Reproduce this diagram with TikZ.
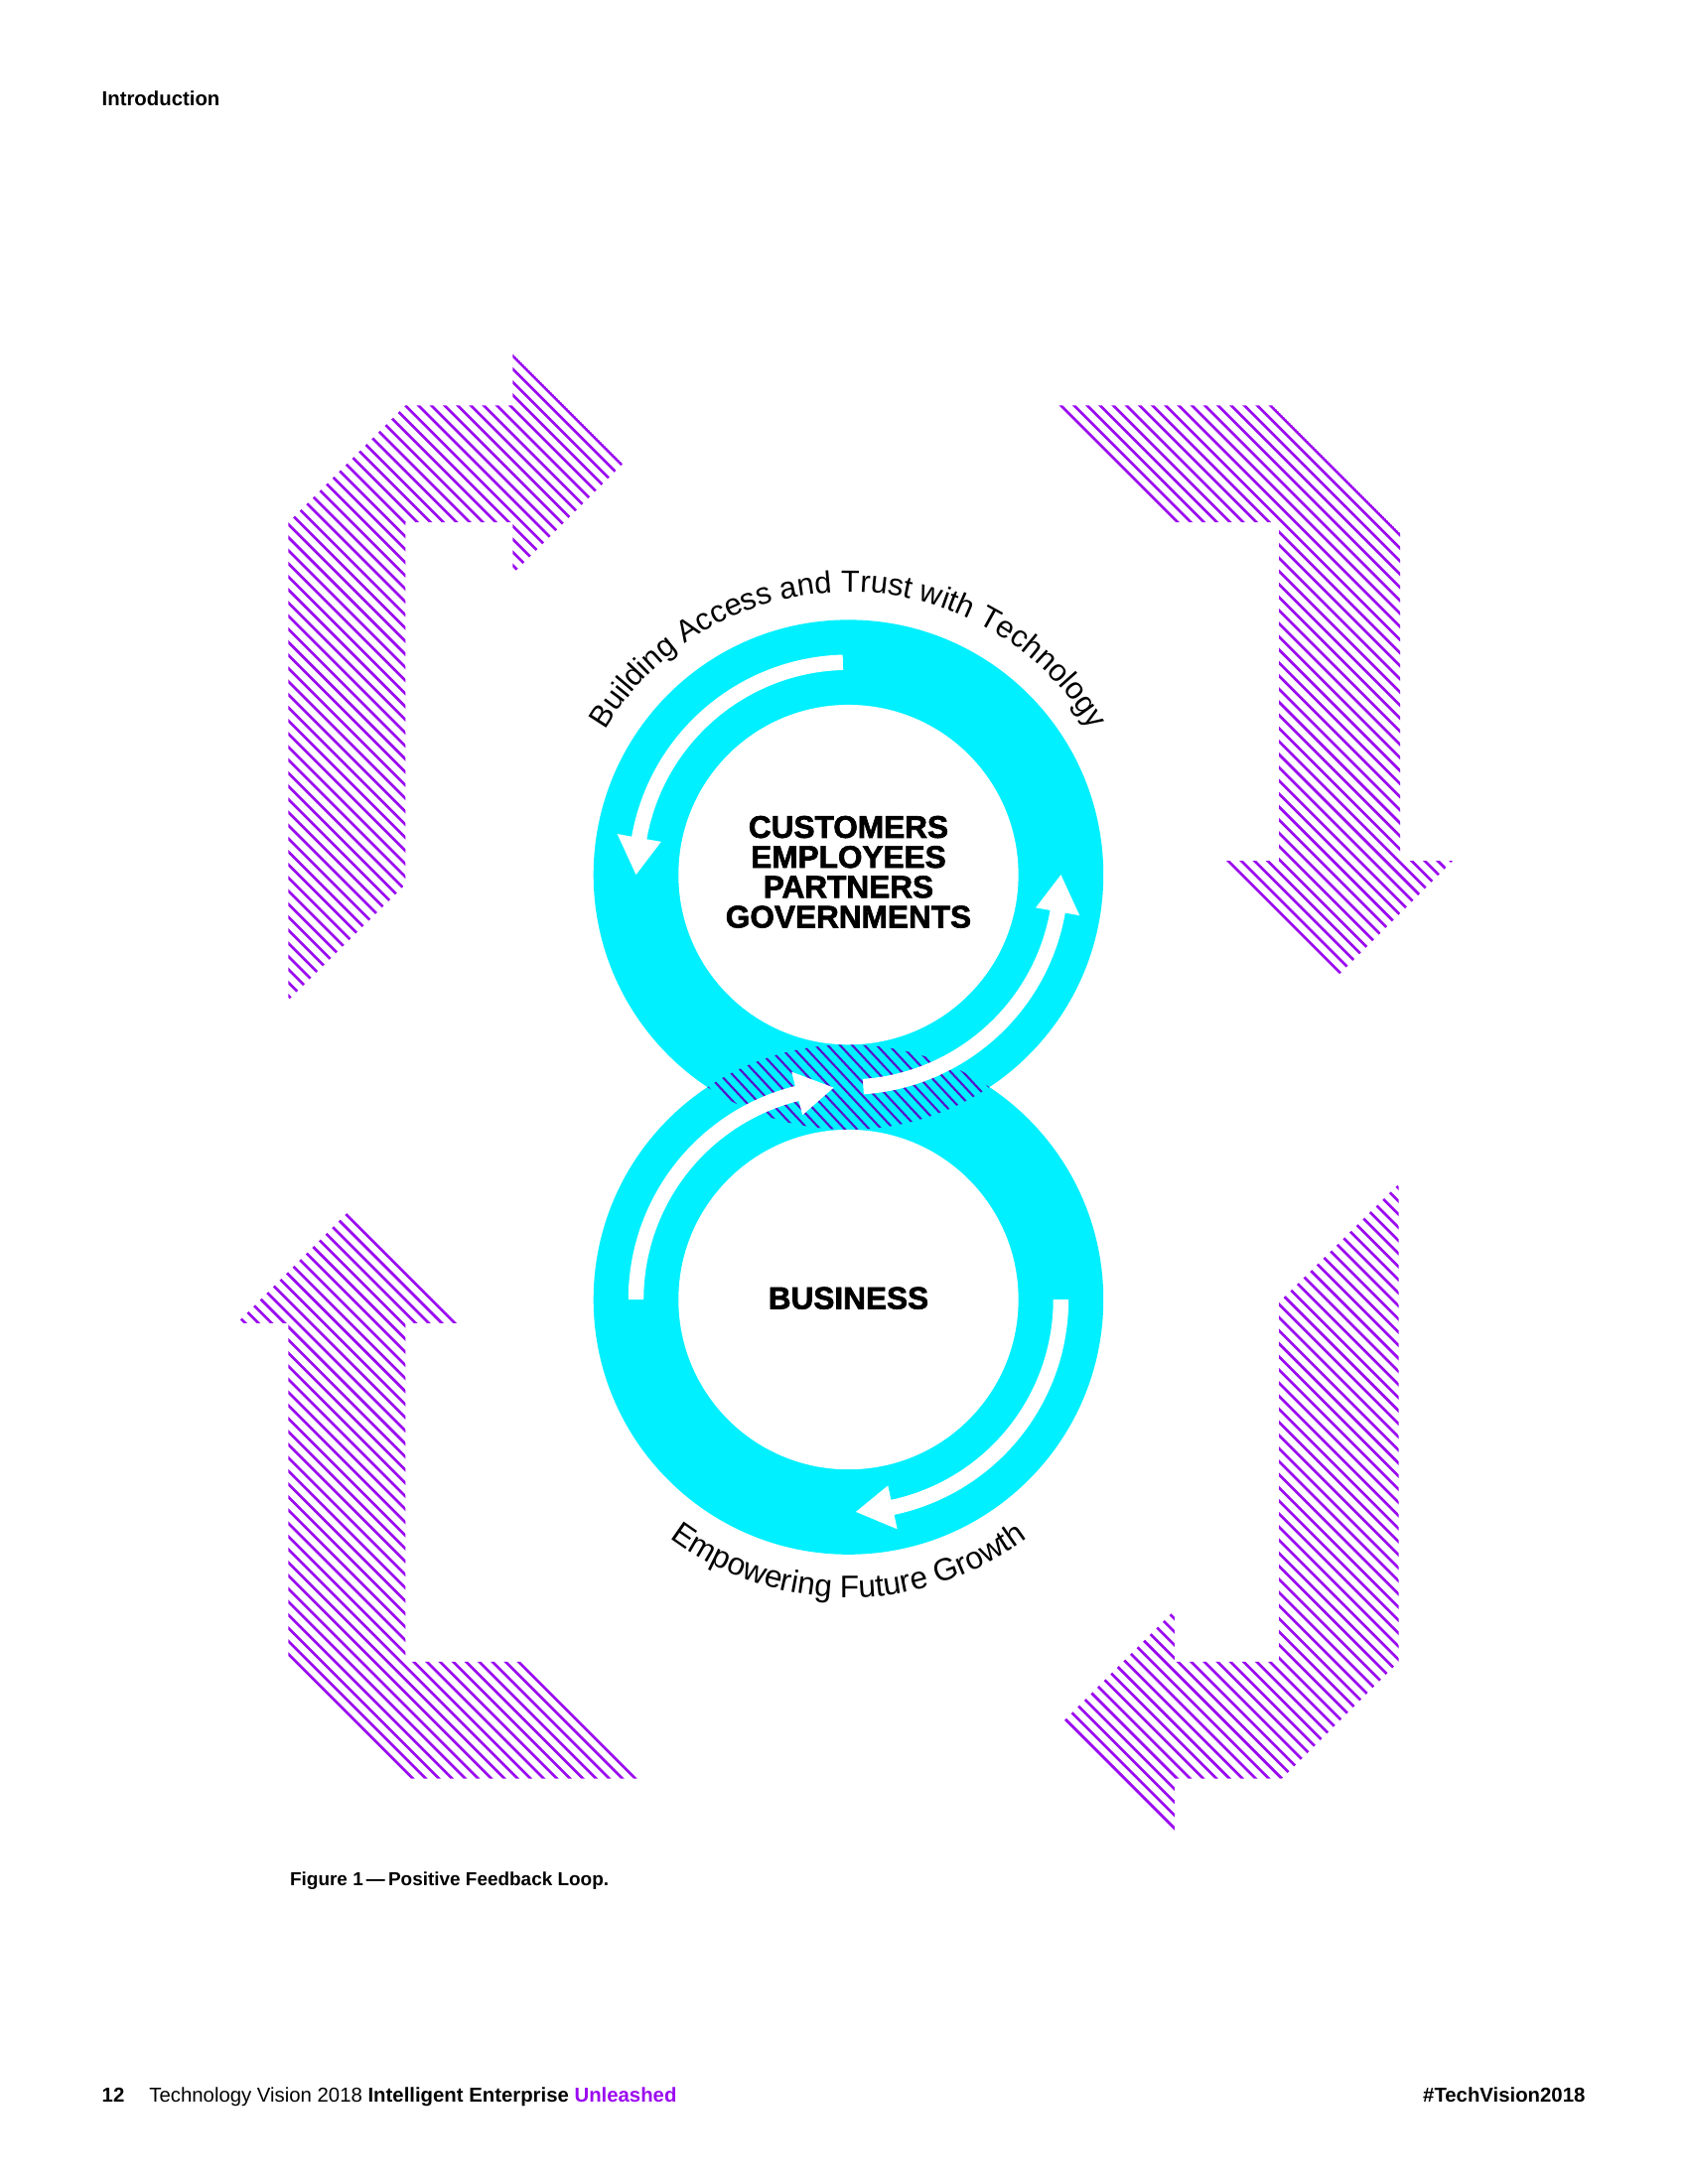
\documentclass[tikz,border=0pt]{standalone}
\usepackage{fontspec}
\setmainfont{Liberation Sans}
\newfontfamily\heavyfont[FakeBold=2]{Liberation Sans Bold}
\usetikzlibrary{decorations.text}
\definecolor{ringcyan}{RGB}{0,240,255}
\definecolor{purp}{RGB}{155,10,240}
\definecolor{lenspurp}{RGB}{85,20,200}
\tikzset{
  hatchpurple/.style={color=purp, line width=1.9pt},
  hatchlens/.style={color=lenspurp, line width=1.5pt},
  ringouter/.style={fill=ringcyan},
  ringinner/.style={fill=white},
  centertext/.style={font=\heavyfont\fontsize{22.5}{21.5}\selectfont, align=center, inner sep=0pt},
  smalltext/.style={font=\fontsize{14.5}{16}\selectfont, inner sep=0pt, anchor=base west},
}
% hatch lines: x1 x2 Y1 Y2 spacing cot(angle) phase
\newcommand\hatchlines[7]{%
  \pgfmathtruncatemacro\kmin{floor((#1-#6*#4-#7)/#5)-1}%
  \pgfmathtruncatemacro\kmax{ceil((#2-#6*#3-#7)/#5)+1}%
  \foreach \k in {\kmin,...,\kmax}{%
    \draw ({\k*#5+#7+#6*(#3-5)},{-(#3-5)}) -- ({\k*#5+#7+#6*(#4+5)},{-(#4+5)});
  }}
% ring arrow: cx cy a0 a1 a2
\newcommand\ringarrow[5]{%
  \begin{scope}[shift={(#1,#2)}]
    \fill[white] (#3:158) arc[start angle=#3, end angle=#4, radius=158]
      -- (#4:168.5) -- (#5:152.5) -- (#4:136.5) -- (#4:147)
      arc[start angle=#4, end angle=#3, radius=147] -- cycle;
  \end{scope}}
\begin{document}
\begin{tikzpicture}[x=1pt,y=1pt]
\useasboundingbox (0,0) rectangle (1212,-1568);
\fill[white] (0,0) rectangle (1212,-1568);

% ---------- purple hatched arrows ----------
% top-left (points right)
\begin{scope}
  \clip (207,-718) -- (207,-375) -- (291,-291) -- (368,-291) -- (368,-254)
        -- (447,-333) -- (368,-412) -- (368,-375) -- (291,-375) -- (291,-635) -- cycle;
  \begin{scope}[hatchpurple]\hatchlines{207}{450}{254}{718}{9.4}{1}{9.2}\end{scope}
\end{scope}
% top-right (points down)
\begin{scope}
  \clip (760,-291) -- (913.2,-291) -- (1005,-382.8) -- (1005,-618) -- (1042.8,-618)
        -- (961.5,-699.3) -- (880.2,-618) -- (918,-618) -- (918,-375) -- (844,-375) -- cycle;
  \begin{scope}[hatchpurple]\hatchlines{760}{1046}{291}{700}{9.4}{1}{0.4}\end{scope}
\end{scope}
% bottom-left (points up)
\begin{scope}
  \clip (170,-950) -- (249,-871) -- (328,-950) -- (291,-950) -- (291,-1193)
        -- (373.6,-1193) -- (457.6,-1277) -- (295,-1277) -- (207,-1189) -- (207,-950) -- cycle;
  \begin{scope}[hatchpurple]\hatchlines{168}{460}{870}{1277}{9.4}{1}{6.4}\end{scope}
\end{scope}
% bottom-right (points left)
\begin{scope}
  \clip (918,-935) -- (1004,-850) -- (1004,-1193) -- (920,-1277) -- (843,-1277)
        -- (843,-1314) -- (764,-1235) -- (843,-1156) -- (843,-1193) -- (918,-1193) -- cycle;
  \begin{scope}[hatchpurple]\hatchlines{762}{1004}{850}{1314}{9.4}{1}{0.4}\end{scope}
\end{scope}

% ---------- rings ----------
\fill[ringouter] (609,-628) circle[radius=183];
\fill[ringouter] (609,-933) circle[radius=183];
\fill[ringinner] (609,-628) circle[radius=122];
\fill[ringinner] (609,-933) circle[radius=122];

% lens hatching
\begin{scope}
  \clip (609,-628) circle[radius=183];
  \clip (609,-933) circle[radius=183];
  \begin{scope}[hatchlens]\hatchlines{480}{740}{745}{818}{8.8}{0.9325}{0}\end{scope}
\end{scope}

% white arrows in rings
\ringarrow{609}{-628}{91.5}{170}{180}
\ringarrow{609}{-628}{-86}{-10}{0}
\ringarrow{609}{-933}{180}{104}{94}
\ringarrow{609}{-933}{0}{-78}{-88}

% ---------- texts ----------
\node[centertext] (people) at (609,-626) {CUSTOMERS\\EMPLOYEES\\PARTNERS\\GOVERNMENTS};
\node[centertext] (business) at (609,-932) {BUSINESS};

\path[decorate, decoration={text along path, text align=center,
  text={|\fontsize{22}{24}\selectfont|Building Access and Trust with Technology}}]
  (609,-628) ++(165:203) arc[start angle=165, end angle=15, radius=203];
\path[decorate, decoration={text along path, text align=center,
  text={|\fontsize{22.5}{24}\selectfont|Empowering Future Growth}}]
  (609,-933) ++(210:214) arc[start angle=210, end angle=330, radius=214];

\node[smalltext, font=\bfseries\fontsize{14.5}{16}\selectfont] (intro) at (73,-76) {Introduction};
\node[smalltext, font=\bfseries\fontsize{13.5}{16}\selectfont] (caption) at (208,-1354) {Figure 1\,—\,Positive Feedback Loop.};
\node[smalltext, font=\bfseries\fontsize{14.5}{16}\selectfont] (pageno) at (73,-1509) {12};
\node[smalltext] (footer) at (107,-1509) {Technology Vision 2018 \textbf{Intelligent Enterprise} \textcolor{purp}{\textbf{Unleashed}}};
\node[smalltext, anchor=base east, font=\bfseries\fontsize{14.5}{16}\selectfont] (hashtag) at (1138,-1509) {\#TechVision2018};
\end{tikzpicture}
\end{document}
